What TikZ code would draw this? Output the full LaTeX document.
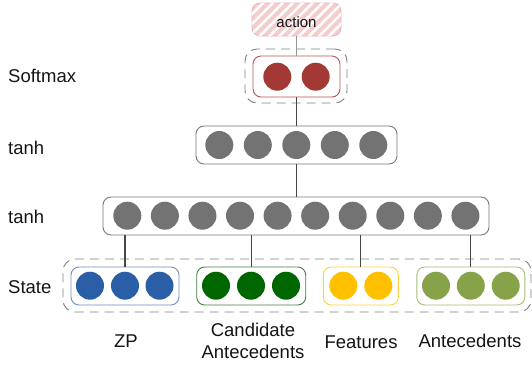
\documentclass[tikz,border=0pt]{standalone}
\usepackage{fontspec}
\setmainfont{Liberation Sans}
\usetikzlibrary{patterns.meta}
\definecolor{cgray}{RGB}{115,115,115}
\definecolor{bgray}{RGB}{120,120,120}
\definecolor{dgray}{RGB}{128,128,128}
\definecolor{cred}{RGB}{163,57,52}
\definecolor{bred}{RGB}{184,84,80}
\definecolor{cblue}{RGB}{42,95,168}
\definecolor{bblue}{RGB}{108,142,191}
\definecolor{cdgreen}{RGB}{0,102,0}
\definecolor{bdgreen}{RGB}{60,130,60}
\definecolor{cyellow}{RGB}{255,192,0}
\definecolor{byellow}{RGB}{255,206,70}
\definecolor{colive}{RGB}{134,163,74}
\definecolor{bolive}{RGB}{162,190,120}
\definecolor{pinkfill}{RGB}{244,205,205}
\definecolor{pinkdraw}{RGB}{238,180,180}
\definecolor{conncol}{RGB}{70,70,70}
\definecolor{lightconn}{RGB}{150,150,150}
\definecolor{txt}{RGB}{20,20,20}
\begin{document}
\begin{tikzpicture}[x=1pt,y=-1pt,
  neuron/.style={circle, minimum size=28pt, inner sep=0pt, draw=none, fill=#1},
  layerbox/.style={draw=#1, line width=0.9pt, rounded corners=8pt, inner sep=0pt},
  dashbox/.style={draw=dgray, line width=0.9pt, dash pattern=on 9pt off 6pt, rounded corners=12pt, inner sep=0pt},
  conn/.style={draw=conncol, line width=1.1pt},
  connlight/.style={draw=lightconn, line width=1.2pt},
  lbl/.style={text=txt, font=\fontsize{18.5}{22}\selectfont, inner sep=0pt},
  actionbox/.style={draw=pinkdraw, line width=0.9pt, rounded corners=8pt, fill=pinkfill,
    postaction={pattern={Lines[angle=45,distance=7pt,line width=2.6pt]}, pattern color=white},
    minimum width=89pt, minimum height=33pt, inner sep=0pt, text=txt,
    font=\fontsize{15}{18}\selectfont}
]
\useasboundingbox (0,0) rectangle (532,365);

% action and softmax
\node[actionbox] (action) at (296.5,19.5) {};
\node[text=txt, font=\fontsize{15}{18}\selectfont, inner sep=0pt] (actiontxt) at (296.5,22) {action};
\node[dashbox, minimum width=102pt, minimum height=54pt] (smdash) at (296,76) {};
\node[layerbox=bred, minimum width=87pt, minimum height=41pt] (smbox) at (296.5,76.5) {};
\node[neuron=cred] (sm0) at (277.3,76.7) {};
\node[neuron=cred] (sm1) at (315.7,76.7) {};

% tanh 1
\node[layerbox=bgray, minimum width=201pt, minimum height=38pt] (h1box) at (296.5,145) {};
\foreach \i in {0,...,4} \node[neuron=cgray] (h1-\i) at ({219.3+38.5*\i},145) {};

% tanh 2
\node[layerbox=bgray, minimum width=386pt, minimum height=38pt] (h2box) at (296,216) {};
\foreach \i in {0,...,9} \node[neuron=cgray] (h2-\i) at ({127.3+37.57*\i},215.7) {};

% state
\node[dashbox, minimum width=468pt, minimum height=53pt] (statedash) at (297,285.5) {};
\node[layerbox=bblue, minimum width=108pt, minimum height=38pt] (zpbox) at (125,286) {};
\node[layerbox=bdgreen, minimum width=109pt, minimum height=38pt] (cabox) at (251.2,286) {};
\node[layerbox=byellow, minimum width=75pt, minimum height=38pt] (ftbox) at (360.8,286) {};
\node[layerbox=bolive, minimum width=108pt, minimum height=38pt] (anbox) at (470.8,286) {};
\foreach \x [count=\i] in {90,125,159.5} \node[neuron=cblue] (zp-\i) at (\x,285.7) {};
\foreach \x [count=\i] in {216,251,286} \node[neuron=cdgreen] (ca-\i) at (\x,285.7) {};
\foreach \x [count=\i] in {343.3,378.3} \node[neuron=cyellow] (ft-\i) at (\x,285.7) {};
\foreach \x [count=\i] in {436,470.8,505.7} \node[neuron=colive] (an-\i) at (\x,285.7) {};

% connectors
\draw[connlight] (action.south) -- (smbox.north);
\draw[conn] (smbox.south) -- (smbox.south |- h1box.north);
\draw[conn] (h1box.south) -- (h1box.south |- h2box.north);
\draw[conn] (zpbox.north) -- (zpbox.north |- h2box.south);
\draw[conn] (cabox.north) -- (cabox.north |- h2box.south);
\draw[conn] (ftbox.north) -- (ftbox.north |- h2box.south);
\draw[conn] (anbox.north) -- (anbox.north |- h2box.south);

% side labels
\node[lbl, anchor=west] (lsoft) at (8,76) {Softmax};
\node[lbl, anchor=west] (ltanh1) at (8,147.5) {tanh};
\node[lbl, anchor=west] (ltanh2) at (8,217) {tanh};
\node[lbl, anchor=west] (lstate) at (8,287) {State};

% bottom labels
\node[lbl] (lzp) at (126,341) {ZP};
\node[lbl, align=center] (lca) at (253,341) {Candidate\\Antecedents};
\node[lbl] (lft) at (361,342) {Features};
\node[lbl] (lan) at (470,341) {Antecedents};
\end{tikzpicture}
\end{document}
